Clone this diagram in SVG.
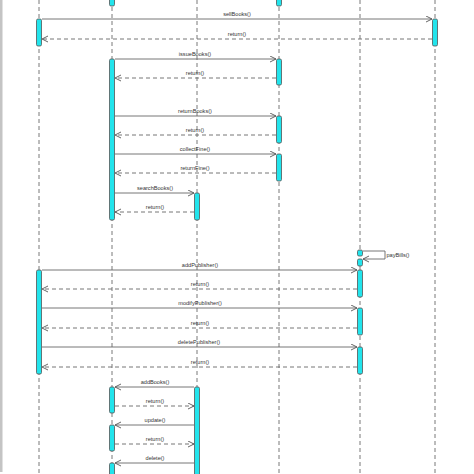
<svg xmlns="http://www.w3.org/2000/svg" width="474" height="474" viewBox="0 0 474 474">
<style>
.ll{stroke:#555;stroke-width:0.8;stroke-dasharray:4,3;fill:none}
.act{fill:#22e4ec;stroke:#555;stroke-width:0.8}
.m{stroke:#666;stroke-width:0.9;fill:none;marker-end:url(#oa)}
.r{stroke:#666;stroke-width:0.9;fill:none;stroke-dasharray:4,3;marker-end:url(#oa)}
text{font-family:"Liberation Sans",Arial,sans-serif;font-size:5.6px;fill:#333;text-anchor:middle}
</style>
<defs>
<marker id="oa" markerUnits="userSpaceOnUse" markerWidth="8" markerHeight="8" refX="6" refY="3.5" orient="auto">
<path d="M0,0.5 L6,3.5 L0,6.5" fill="none" stroke="#555" stroke-width="0.9"/>
</marker>
</defs>
<rect width="474" height="474" fill="#fff"/>
<rect x="0" y="0" width="2.5" height="472" fill="#c4c4c4"/>
<g id="lifelines">
<line class="ll" x1="39" y1="0" x2="39" y2="474"/>
<line class="ll" x1="112" y1="0" x2="112" y2="474"/>
<line class="ll" x1="197" y1="0" x2="197" y2="474"/>
<line class="ll" x1="279" y1="0" x2="279" y2="474"/>
<line class="ll" x1="360" y1="0" x2="360" y2="474"/>
<line class="ll" x1="435" y1="0" x2="435" y2="474"/>
</g>
<g id="connectors">
<line class="m" x1="42" y1="19" x2="432" y2="19"/>
<line class="r" x1="432" y1="39" x2="42" y2="39"/>
<line class="m" x1="115" y1="59" x2="276" y2="59"/>
<line class="r" x1="276" y1="78" x2="115" y2="78"/>
<line class="m" x1="115" y1="116" x2="276" y2="116"/>
<line class="r" x1="276" y1="135" x2="115" y2="135"/>
<line class="m" x1="115" y1="154" x2="276" y2="154"/>
<line class="r" x1="276" y1="173" x2="115" y2="173"/>
<line class="m" x1="115" y1="193" x2="194" y2="193"/>
<line class="r" x1="194" y1="212" x2="115" y2="212"/>
<polyline class="m" points="363,251 385,251 385,259 363,259"/>
<line class="m" x1="42" y1="270" x2="357" y2="270"/>
<line class="r" x1="357" y1="289" x2="42" y2="289"/>
<line class="m" x1="42" y1="308" x2="357" y2="308"/>
<line class="r" x1="357" y1="328" x2="42" y2="328"/>
<line class="m" x1="42" y1="347" x2="357" y2="347"/>
<line class="r" x1="357" y1="367" x2="42" y2="367"/>
<line class="m" x1="194" y1="387" x2="115" y2="387"/>
<line class="r" x1="115" y1="406" x2="194" y2="406"/>
<line class="m" x1="194" y1="425" x2="115" y2="425"/>
<line class="r" x1="115" y1="444" x2="194" y2="444"/>
<line class="m" x1="194" y1="463" x2="115" y2="463"/>
</g>
<g id="activations">
<rect class="act" x="109.5" y="-4" width="5" height="10" rx="1.5"/>
<rect class="act" x="276.5" y="-4" width="5" height="10" rx="1.5"/>
<rect class="act" x="36.5" y="19" width="5" height="27" rx="1.5"/>
<rect class="act" x="432.5" y="19" width="5" height="27" rx="1.5"/>
<rect class="act" x="109.5" y="59" width="5" height="161" rx="1.5"/>
<rect class="act" x="276.5" y="59" width="5" height="26" rx="1.5"/>
<rect class="act" x="276.5" y="116" width="5" height="27" rx="1.5"/>
<rect class="act" x="276.5" y="154" width="5" height="27" rx="1.5"/>
<rect class="act" x="194.5" y="193" width="5" height="27" rx="1.5"/>
<rect class="act" x="357.5" y="250" width="5" height="6" rx="1.5"/>
<rect class="act" x="357.5" y="259" width="5" height="7" rx="1.5"/>
<rect class="act" x="36.5" y="270" width="5" height="104" rx="1.5"/>
<rect class="act" x="357.5" y="270" width="5" height="27" rx="1.5"/>
<rect class="act" x="357.5" y="308" width="5" height="27" rx="1.5"/>
<rect class="act" x="357.5" y="347" width="5" height="27" rx="1.5"/>
<rect class="act" x="194.5" y="387" width="5" height="92" rx="1.5"/>
<rect class="act" x="109.5" y="387" width="5" height="26" rx="1.5"/>
<rect class="act" x="109.5" y="425" width="5" height="26" rx="1.5"/>
<rect class="act" x="109.5" y="463" width="5" height="16" rx="1.5"/>
</g>
<g id="labels">
<text x="237" y="16">sellBooks()</text>
<text x="237" y="36">return()</text>
<text x="195" y="56">issueBooks()</text>
<text x="195" y="75">return()</text>
<text x="195" y="113">returnBooks()</text>
<text x="195" y="132">return()</text>
<text x="195" y="151">collectFine()</text>
<text x="195" y="170">returnFine()</text>
<text x="155" y="190">searchBooks()</text>
<text x="155" y="209">return()</text>
<text x="398" y="257">payBills()</text>
<text x="200" y="267">addPublisher()</text>
<text x="200" y="286">return()</text>
<text x="200" y="305">modifyPublisher()</text>
<text x="200" y="325">return()</text>
<text x="199" y="344">deletePublisher()</text>
<text x="200" y="364">return()</text>
<text x="155" y="384">addBooks()</text>
<text x="155" y="403">return()</text>
<text x="155" y="422">update()</text>
<text x="155" y="441">return()</text>
<text x="155" y="460">delete()</text>
</g>
</svg>
